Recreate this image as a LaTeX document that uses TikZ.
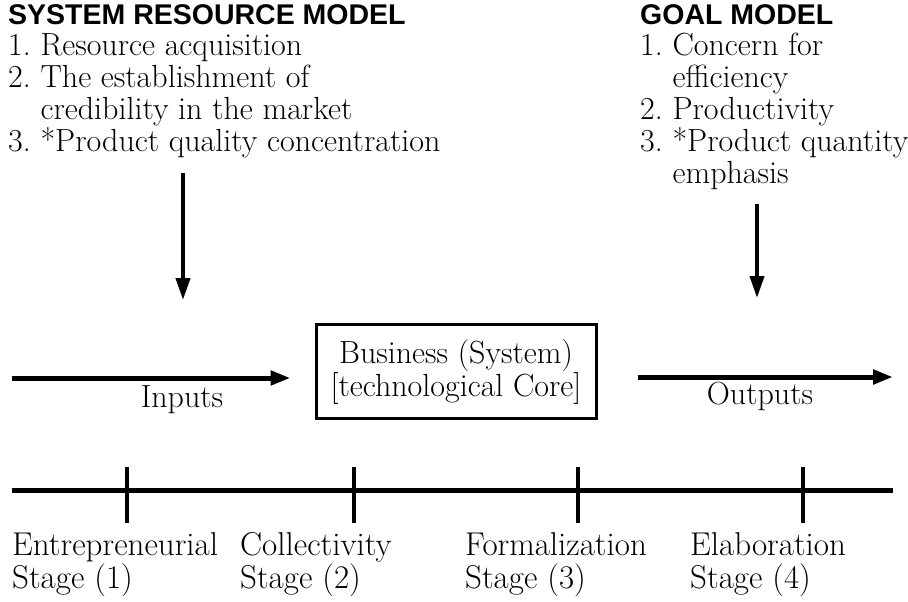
\documentclass[tikz,border=0pt]{standalone}
\usepackage{fontspec}
\newfontfamily\headfont{Liberation Sans}
\usetikzlibrary{arrows.meta}
\begin{document}
\frenchspacing
\begin{tikzpicture}[x=1pt,y=-1pt,
  body/.style={font=\fontsize{32}{31.8}\selectfont, inner sep=0pt, align=left, anchor=base west},
  head/.style={font=\headfont\bfseries\fontsize{28.5}{31.5}\selectfont, inner sep=0pt, anchor=base west},
  flow/.style={line width=5pt, -{Triangle[length=20pt,width=14pt]}},
  down/.style={line width=4pt, -{Triangle[length=22pt,width=14pt]}},
  corebox/.style={draw, line width=3pt, minimum width=280pt, minimum height=94pt, align=center, inner sep=0pt, font=\fontsize{32}{33}\selectfont},
  tick/.style={line width=4pt},
  stagelbl/.style={font=\fontsize{33}{33}\selectfont, inner sep=0pt, align=left, anchor=base west}]
\useasboundingbox (0,0) rectangle (908,602);
% headings and lists
\node[head] (srmh) at (8,25) {SYSTEM RESOURCE MODEL};
\node[body] (srm) at (8,151) {1. Resource acquisition\\2. The establishment of\\\phantom{2. }credibility in the market\\3. *Product quality concentration};
\node[head] (gmh) at (640,25) {GOAL MODEL};
\node[body] (gm) at (640,183) {1. Concern for\\\phantom{1. }efficiency\\2. Productivity\\3. *Product quantity\\\phantom{3. }emphasis};
% core
\node[corebox] (core) at (456,371.5) {Business (System)\\\relax[technological Core]};
\coordinate (inS) at (12,378);
\coordinate (outE) at (893,377);
\draw[flow, shorten >=24pt] (inS) -- (inS -| core.west);
\draw[flow, shorten <=40pt] (outE -| core.east) -- (outE);
\node[body, anchor=base] (inl) at (182,407) {Inputs};
\node[body, anchor=base] (outl) at (760,404) {Outputs};
% down arrows
\coordinate (dl) at (183,300);
\coordinate (dr) at (757,298);
\draw[down] (dl |- srm.south) ++(0,15) -- (dl);
\draw[down] (dr |- gm.south) ++(0,15) -- (dr);
% timeline
\coordinate (tl0) at (12,490);
\coordinate (tl1) at (893,490);
\draw[line width=5pt] (tl0) -- (tl1);
\foreach \x/\n in {127/1,354/2,578/3,803/4}{
  \coordinate (ta\n) at (\x,467);
  \coordinate (tb\n) at (\x,523);
  \draw[tick] (ta\n) -- (tb\n);
}
\node[stagelbl] (s1) at (12,588) {Entrepreneurial\\Stage (1)};
\node[stagelbl] (s2) at (240,588) {Collectivity\\Stage (2)};
\node[stagelbl] (s3) at (465,588) {Formalization\\Stage (3)};
\node[stagelbl] (s4) at (690,588) {Elaboration\\Stage (4)};
\end{tikzpicture}
\end{document}
